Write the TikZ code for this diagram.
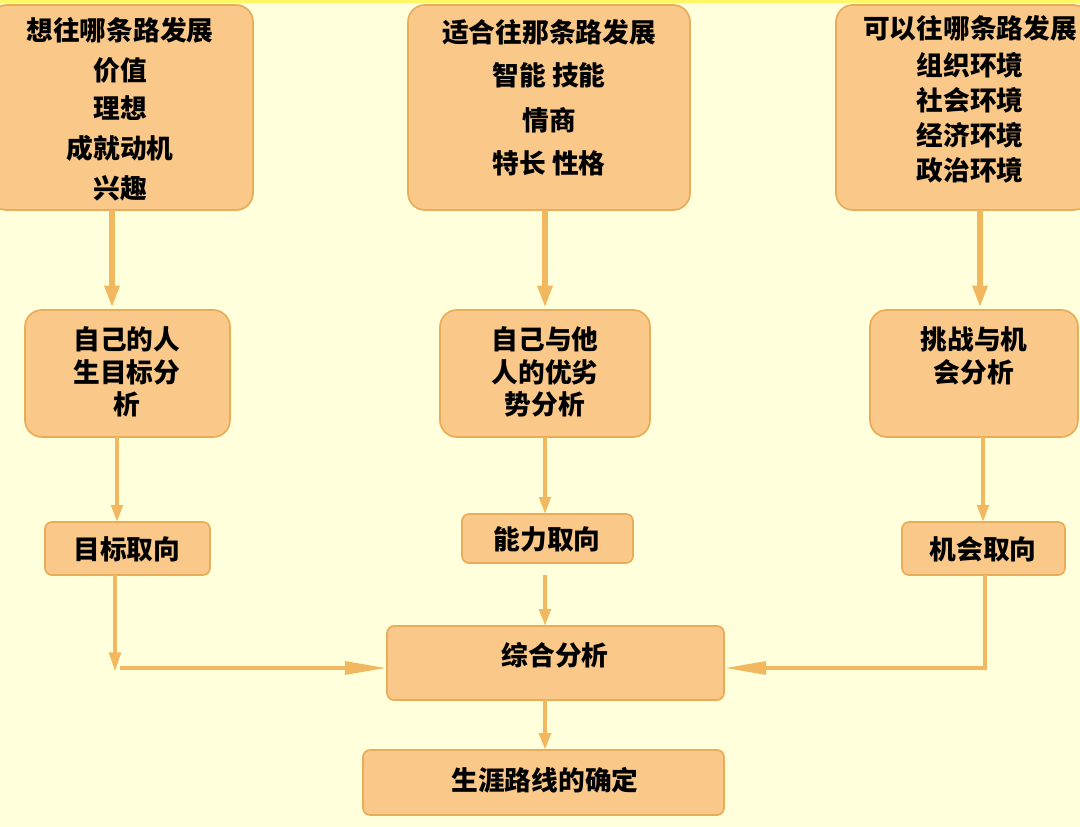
\documentclass[tikz,border=0pt]{standalone}
\usepackage{fontspec}
\setmainfont{Noto Sans CJK SC}
\usetikzlibrary{arrows.meta}
\definecolor{bg}{HTML}{FFFFDC}
\definecolor{bx}{HTML}{FAC98A}
\definecolor{bd}{HTML}{E9AC58}
\definecolor{ar}{HTML}{F2B860}
\begin{document}
\begin{tikzpicture}[x=0.025cm,y=-0.025cm,
 box/.style={draw=bd,line width=1.2pt,fill=bx,rounded corners=12pt},
 sbox/.style={draw=bd,line width=1.2pt,fill=bx,rounded corners=5pt},
 t/.style={font=\fontsize{19}{19}\selectfont\bfseries,text=black},
 arr/.style={draw=ar,line width=4pt,-{Triangle[length=16pt,width=10pt]}}]
\useasboundingbox (0,0) rectangle (1080,827);
\clip (0,0) rectangle (1080,827);
\fill[bg] (0,0) rectangle (1080,827);
\fill[yellow!60] (0,0) rectangle (1080,3);
% top boxes
\draw[box] (-10,5) rectangle (253,210);
\draw[box] (408,5) rectangle (690,210);
\draw[box] (836,5) rectangle (1090,210);
\node[t] (a1) at (120,30) {想往哪条路发展};
\node[t] at (120,70) {价值};
\node[t] at (120,108) {理想};
\node[t] at (120,148) {成就动机};
\node[t] at (120,188) {兴趣};
\node[t] (b1) at (549,32) {适合往那条路发展};
\node[t] at (549,75) {智能 技能};
\node[t] at (549,120) {情商};
\node[t] at (549,163) {特长 性格};
\node[t] (c1) at (970,28) {可以往哪条路发展};
\node[t] at (970,65) {组织环境};
\node[t] at (970,100) {社会环境};
\node[t] at (970,135) {经济环境};
\node[t] at (970,170) {政治环境};
% row 2
\draw[box] (25,310) rectangle (230,437);
\draw[box] (440,310) rectangle (650,437);
\draw[box] (870,310) rectangle (1078,437);
\node[t,align=center] (a2) at (127,372) {自己的人\\[4pt]生目标分\\[4pt]析};
\node[t,align=center] (b2) at (545,372) {自己与他\\[4pt]人的优劣\\[4pt]势分析};
\node[t,align=center] (c2) at (974,356) {挑战与机\\[4pt]会分析};
% row 3
\draw[sbox] (45,522) rectangle (210,575);
\draw[sbox] (462,514) rectangle (633,563);
\draw[sbox] (902,522) rectangle (1065,575);
\node[t] (a3) at (127,549) {目标取向};
\node[t] (b3) at (547,539) {能力取向};
\node[t] (c3) at (983,549) {机会取向};
% bottom
\draw[sbox] (387,626) rectangle (724,700);
\node[t] (d) at (555,655) {综合分析};
\draw[sbox] (363,750) rectangle (724,815);
\node[t] (e) at (545,780) {生涯路线的确定};
% arrows
\coordinate (a1b) at (112,210); \coordinate (a2t) at (112,308);
\coordinate (b1b) at (545,210); \coordinate (b2t) at (545,308);
\coordinate (c1b) at (980,210); \coordinate (c2t) at (980,308);
\draw[arr] (a1b) -- (a2t);
\draw[arr] (b1b) -- (b2t);
\draw[arr] (c1b) -- (c2t);
\coordinate (a2b) at (117,437); \coordinate (a3t) at (117,522);
\coordinate (b2b) at (545,437); \coordinate (b3t) at (545,514);
\coordinate (c2b) at (983,437); \coordinate (c3t) at (983,522);
\draw[arr,line width=2.5pt,-{Triangle[length=12pt,width=8pt]}] (a2b) -- (a3t);
\draw[arr,line width=2.5pt,-{Triangle[length=12pt,width=8pt]}] (b2b) -- (b3t);
\draw[arr,line width=2.5pt,-{Triangle[length=12pt,width=8pt]}] (c2b) -- (c3t);
\coordinate (a3b) at (115,575); \coordinate (aL) at (115,672);
\coordinate (aH) at (120,668); \coordinate (dL) at (387,668);
\draw[arr,line width=3pt,-{Triangle[length=14pt,width=8pt]}] (a3b) -- (aL);
\draw[arr,line width=3pt,-{Triangle[length=30pt,width=9pt]}] (aH) -- (dL);
\coordinate (b3b) at (545,575); \coordinate (dT) at (545,626);
\draw[arr,line width=3pt,-{Triangle[length=12pt,width=8pt]}] (b3b) -- (dT);
\coordinate (c3b) at (985,575); \coordinate (cL) at (985,670);
\coordinate (dR) at (724,668);
\draw[draw=ar,line width=3pt] (c3b) -- (cL) -- (985,668);
\draw[arr,line width=3pt,-{Triangle[length=30pt,width=9pt]}] (985,668) -- (dR);
\coordinate (dB) at (545,700); \coordinate (eT) at (545,750);
\draw[arr,line width=3pt,-{Triangle[length=12pt,width=8pt]}] (dB) -- (eT);
\end{tikzpicture}
\end{document}
